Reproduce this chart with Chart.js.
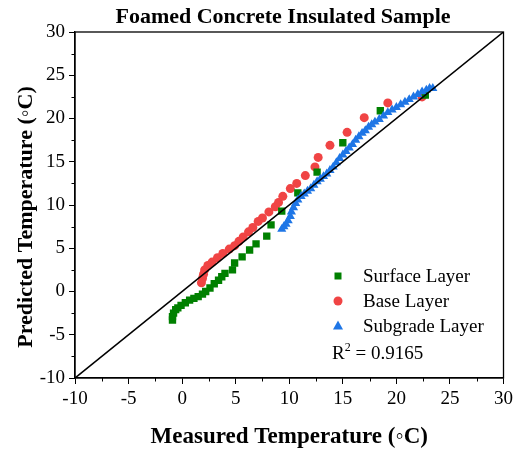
<!DOCTYPE html>
<html>
<head>
<meta charset="utf-8">
<script src="https://cdn.jsdelivr.net/npm/chart.js@4.4.1/dist/chart.umd.min.js"></script>
<style>
html,body{margin:0;padding:0;background:#fff;}
#wrap{width:517px;height:450px;position:relative;}
</style>
</head>
<body>
<div id="wrap"><canvas id="c" width="517" height="450"></canvas></div>
<script>
const titleText = 'Foamed Concrete Insulated Sample';
const xTitle = 'Measured Temperature (\u25E6C)';
const yTitle = 'Predicted Temperature (\u25E6C)';
const seriesNames = ['Surface Layer', 'Base Layer', 'Subgrade Layer'];
const r2Text = '0.9165';
const axisMin = -10, axisMax = 30, axisStep = 5;

const surfaceX = [-0.9,-0.9,-0.8,-0.6,-0.4,-0.1,0.3,0.7,1.1,1.5,1.9,2.2,2.6,3.0,3.4,3.7,4.0,4.7,4.9,5.6,6.3,6.9,7.9,8.3,9.3,10.8,12.6,15.0,18.5,22.7];
const surfaceY = [-3.3,-2.9,-2.5,-2.1,-1.9,-1.6,-1.3,-1.0,-0.8,-0.6,-0.3,0.0,0.4,0.9,1.3,1.7,2.1,2.5,3.3,4.0,4.8,5.5,6.4,7.7,9.3,11.4,13.8,17.2,20.9,22.7];

const baseX = [1.8,1.9,2.0,2.1,2.4,2.8,3.3,3.8,4.4,4.9,5.3,5.7,6.2,6.6,7.1,7.5,8.1,8.7,9.0,9.4,10.1,10.7,11.5,12.4,12.7,13.8,15.4,17.0,19.2,22.4];
const baseY = [1.0,1.5,2.0,2.5,3.0,3.4,3.9,4.4,4.9,5.3,5.8,6.3,6.9,7.4,8.1,8.5,9.2,9.8,10.3,11.0,11.9,12.5,13.4,14.4,15.5,16.9,18.4,20.1,21.8,22.5];

const subgradeX = [9.3,9.5,9.7,9.9,10.1,10.2,10.4,10.6,10.8,11.1,11.4,11.7,12.0,12.3,12.6,12.9,13.2,13.5,13.8,14.1,14.4,14.7,15.0,15.3,15.6,15.9,16.2,16.5,16.8,17.1,17.4,17.7,18.0,18.4,18.8,19.2,19.6,20.0,20.4,20.8,21.2,21.6,22.0,22.4,22.8,23.1,23.4];
const subgradeY = [7.2,7.5,7.8,8.2,8.7,9.2,9.7,10.2,10.6,11.0,11.3,11.6,11.9,12.3,12.7,13.0,13.3,13.6,14.0,14.4,14.9,15.4,15.8,16.2,16.6,17.0,17.5,17.9,18.3,18.6,19.0,19.3,19.6,19.9,20.3,20.7,21.0,21.3,21.6,21.9,22.2,22.5,22.8,23.1,23.3,23.5,23.5];

const lineX = [-10, 30];
const lineY = [-10, 30];

const GREEN = 'rgb(0,128,0)';
const RED = 'rgb(240,68,68)';
const BLUE = 'rgb(30,118,230)';
const SERIF = '"Liberation Serif","Times New Roman",serif';

function pts(xs, ys){ return xs.map((x,i)=>({x:x, y:ys[i]})); }

function marker(ctx, style, x, y, color){
  ctx.save();
  ctx.fillStyle = color;
  ctx.beginPath();
  if(style==='rect'){ ctx.rect(x-3.5,y-3.5,7,7); }
  else if(style==='circle'){ ctx.arc(x,y,4.5,0,Math.PI*2); }
  else { ctx.moveTo(x,y-5.5); ctx.lineTo(x+5,y+3.5); ctx.lineTo(x-5,y+3.5); ctx.closePath(); }
  ctx.fill();
  ctx.restore();
}

const decor = {
  id:'decor',
  afterDraw(chart){
    const ctx = chart.ctx, a = chart.chartArea;
    const xs = chart.scales.x, ys = chart.scales.y;
    ctx.save();
    ctx.strokeStyle = '#000'; ctx.lineWidth = 1.3;
    ctx.strokeRect(a.left, a.top, a.right-a.left, a.bottom-a.top);
    ctx.lineWidth = 1;
    ctx.beginPath();
    for(let v=axisMin+axisStep/2; v<axisMax; v+=axisStep){
      const px = Math.round(xs.getPixelForValue(v))+0.5;
      ctx.moveTo(px, a.bottom); ctx.lineTo(px, a.bottom+3.5);
      const py = Math.round(ys.getPixelForValue(v))+0.5;
      ctx.moveTo(a.left, py); ctx.lineTo(a.left-3.5, py);
    }
    ctx.stroke();
    ctx.fillStyle = '#000';
    ctx.textAlign = 'center'; ctx.textBaseline = 'alphabetic';
    ctx.font = 'bold 22px ' + SERIF;
    ctx.fillText(titleText, 283, 23);
    ctx.font = 'bold 23px ' + SERIF;
    ctx.fillText(xTitle, (a.left+a.right)/2, 443);
    ctx.save();
    ctx.translate(32, 217);
    ctx.rotate(-Math.PI/2);
    ctx.font = 'bold 22px ' + SERIF;
    ctx.fillText(yTitle, 0, 0);
    ctx.restore();
    const styles = ['rect','circle','triangle'];
    const colors = [GREEN, RED, BLUE];
    const rows = [276, 301, 326];
    ctx.textAlign = 'left'; ctx.textBaseline = 'middle';
    ctx.font = '19px ' + SERIF;
    for(let i=0;i<3;i++){
      marker(ctx, styles[i], 338, rows[i], colors[i]);
      ctx.fillStyle = '#000';
      ctx.fillText(seriesNames[i], 363, rows[i]+1);
    }
    ctx.textBaseline = 'alphabetic';
    ctx.font = '19px ' + SERIF;
    ctx.fillText('R', 332, 359);
    let w = ctx.measureText('R').width;
    ctx.font = '12px ' + SERIF;
    ctx.fillText('2', 332+w, 351);
    let w2 = ctx.measureText('2').width;
    ctx.font = '19px ' + SERIF;
    ctx.fillText(' = ' + r2Text, 332+w+w2, 359);
    ctx.restore();
  }
};

const scaleCommon = {
  type:'linear', min:axisMin, max:axisMax,
  grid:{display:true, drawOnChartArea:false, drawTicks:true, tickLength:6, color:'#000', lineWidth:1},
  border:{display:true, color:'#000', width:1.3},
  title:{display:false}
};

new Chart(document.getElementById('c'), {
  type:'scatter',
  data:{datasets:[
    {label:'y=x', type:'line', data:pts(lineX,lineY), borderColor:'#000', borderWidth:1.6, pointRadius:0, fill:false, order:0},
    {label:seriesNames[2], data:pts(subgradeX,subgradeY), pointStyle:'triangle', pointRadius:5.3, backgroundColor:BLUE, borderColor:BLUE, borderWidth:0, order:1},
    {label:seriesNames[0], data:pts(surfaceX,surfaceY), pointStyle:'rect', pointRadius:5.2, backgroundColor:GREEN, borderColor:GREEN, borderWidth:0, order:2},
    {label:seriesNames[1], data:pts(baseX,baseY), pointStyle:'circle', pointRadius:4.5, backgroundColor:RED, borderColor:RED, borderWidth:0, order:3}
  ]},
  options:{
    responsive:false, animation:false, devicePixelRatio:1,
    layout:{padding:{top:32, right:10, left:0, bottom:0}},
    plugins:{legend:{display:false}, title:{display:false}, tooltip:{enabled:false}},
    scales:{
      x:Object.assign({}, scaleCommon, {
        position:'bottom',
        ticks:{stepSize:axisStep, autoSkip:false, maxRotation:0, padding:4, color:'#000', font:{family:SERIF, size:19}},
        afterFit(s){ s.height = 72; }
      }),
      y:Object.assign({}, scaleCommon, {
        position:'left',
        ticks:{stepSize:axisStep, autoSkip:false, padding:4, color:'#000', font:{family:SERIF, size:19}},
        afterFit(s){ s.width = 75; }
      })
    }
  },
  plugins:[decor]
});
</script>
</body>
</html>
